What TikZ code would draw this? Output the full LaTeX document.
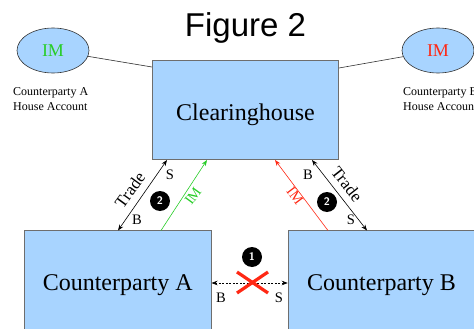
\documentclass[tikz,border=0pt]{standalone}
\usepackage{fontspec}
\setmainfont{Liberation Serif}
\newfontfamily\titlefont{Liberation Sans}
\usetikzlibrary{arrows.meta,shapes.geometric,calc}
\definecolor{boxfill}{RGB}{168,212,255}
\definecolor{boxline}{RGB}{110,110,110}
\definecolor{imgreen}{RGB}{40,205,40}
\definecolor{imred}{RGB}{255,40,20}
\begin{document}
\begin{tikzpicture}[x=1pt,y=-1pt,
  box/.style={draw=boxline,fill=boxfill,line width=1pt,minimum width=186.5pt,inner sep=0pt,text depth=0pt,font=\fontsize{24}{28}\selectfont},
  imell/.style={ellipse,draw=black!80,fill=boxfill,line width=0.6pt,minimum width=72pt,minimum height=45pt,inner sep=0pt,font=\fontsize{18}{20}\selectfont},
  small/.style={font=\fontsize{12}{15}\selectfont,align=left,inner sep=0pt,anchor=north west},
  lbl/.style={font=\fontsize{14.5}{16}\selectfont,inner sep=0pt},
  tradelbl/.style={font=\fontsize{17}{19}\selectfont,inner sep=0pt},
  badge/.style={circle,fill=black,text=white,minimum size=20pt,inner sep=0pt,font=\sffamily\bfseries\fontsize{11}{12}\selectfont},
  arr/.style={-{Stealth[length=6pt,width=4.5pt]},line width=0.6pt},
  darr/.style={{Stealth[length=6pt,width=4.5pt]}-{Stealth[length=6pt,width=4.5pt]},line width=0.6pt},
]
\useasboundingbox (0,0) rectangle (474,329);
% boxes
\node[box,minimum height=99pt,text height=20pt] (ch) at (245.5,110.3) {Clearinghouse};
\node[box,minimum height=105pt] (A) at (117.75,283) {Counterparty A};
\node[box,minimum height=105pt] (B) at (381.5,283) {Counterparty B};
% house accounts
\node[imell,text=imgreen] (eA) at (53,50.5) {IM};
\node[imell,text=imred] (eB) at (438,50.5) {IM};
\node[small] (hA) at (13,87) {Counterparty A\\House Account};
\node[small] (hB) at (403,87) {Counterparty B\\House Account};
% title
\node[font=\titlefont\fontsize{33}{36}\selectfont,anchor=base,inner sep=0pt] (title) at (245.5,37) {Figure 2};
% links to house accounts
\coordinate (chL) at (152,67);
\coordinate (chR) at (339,68);
\draw[black!80,line width=0.6pt] (eA) -- (chL);
\draw[black!80,line width=0.6pt] (eB) -- (chR);
% left side
\coordinate (tA1) at (118,230.5);
\coordinate (tA2) at (167,160);
\draw[darr] (tA1) -- (tA2);
\node[tradelbl,rotate=54] (tradeA) at (130,190) {Trade};
\node[lbl] (sA) at (170,175) {S};
\node[lbl] (bA) at (137,220) {B};
\node[badge] (two1) at (160,201) {2};
\coordinate (gA1) at (161,230.5);
\coordinate (gA2) at (207,160);
\draw[arr,imgreen] (gA1) -- (gA2);
\node[lbl,text=imgreen,rotate=54] (imA) at (193,196) {IM};
% right side
\coordinate (rB1) at (328,230.5);
\coordinate (rB2) at (275,160);
\draw[arr,imred] (rB1) -- (rB2);
\node[lbl,text=imred,rotate=-53] (imB) at (295,196) {IM};
\coordinate (tB1) at (312,160);
\coordinate (tB2) at (367,230.5);
\draw[darr] (tB1) -- (tB2);
\node[tradelbl,rotate=-52] (tradeB) at (347,184) {Trade};
\node[lbl] (bB) at (308,175) {B};
\node[lbl] (sB) at (351,220) {S};
\node[badge] (two2) at (327,202) {2};
% bilateral
\draw[darr,dash pattern=on 2pt off 1.5pt] (A.east) -- (B.west);
\draw[imred,line width=3.2pt] (237,272) -- (268,293) (237,293) -- (268,272);
\node[badge] (one) at (252,257) {1};
\node[lbl] (bC) at (221,298) {B};
\node[lbl] (sC) at (279,298) {S};
\end{tikzpicture}
\end{document}
